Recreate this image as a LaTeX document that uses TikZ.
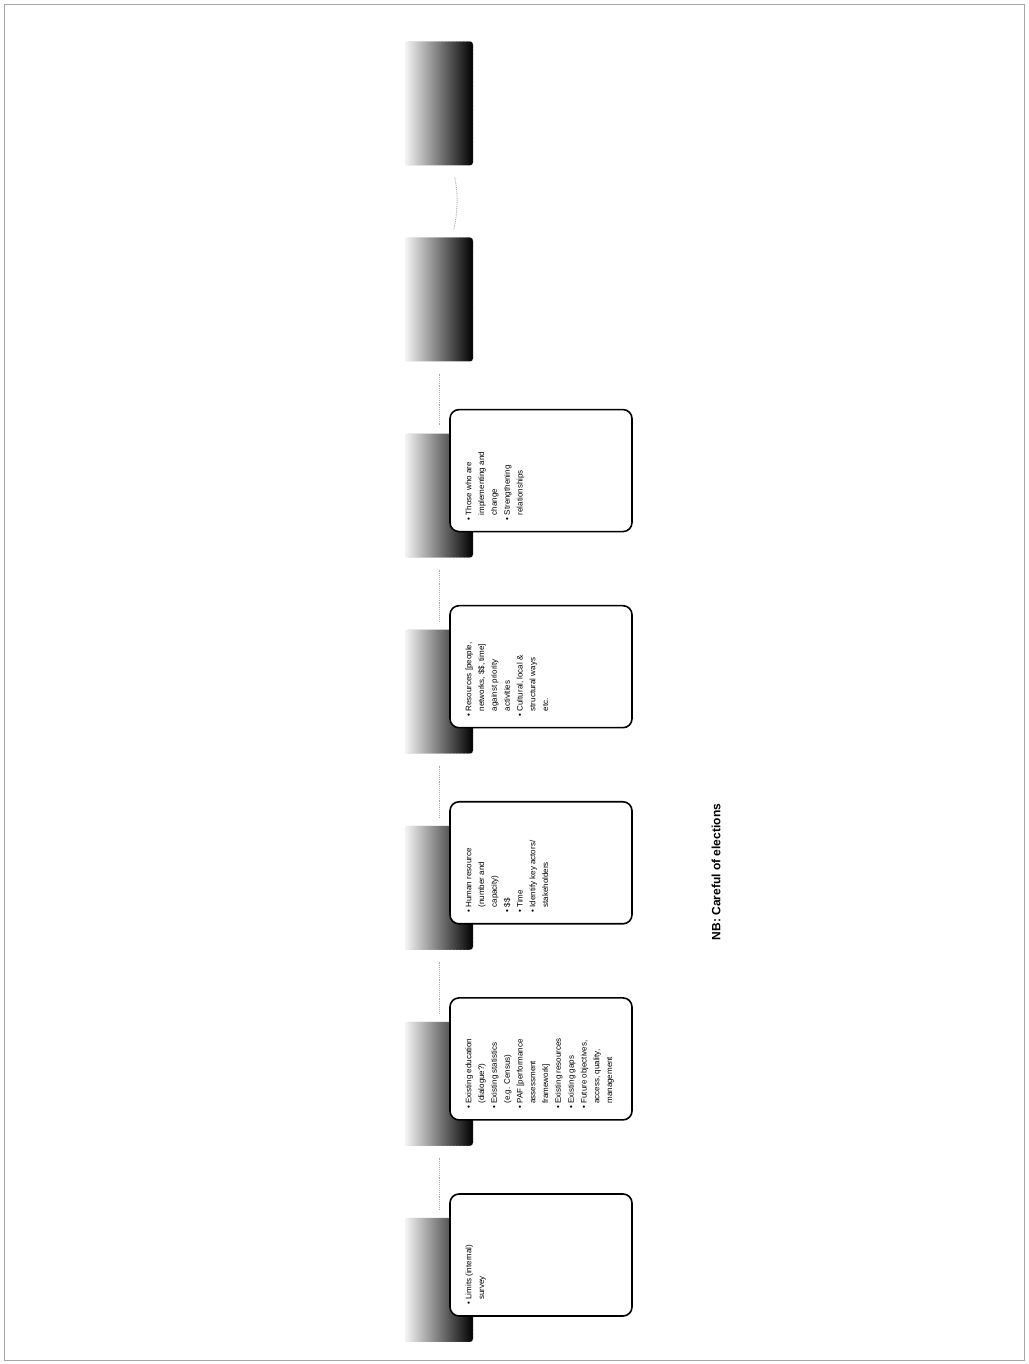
\documentclass[tikz,border=0pt]{standalone}
\usepackage{fontspec}
\setmainfont{Liberation Sans}
\usetikzlibrary{positioning, calc}
\tikzset{
    tab/.style={rounded corners=3pt, draw=gray!40, densely dotted, left color=gray!8, middle color=gray!80!black, right color=black, minimum width=68pt, minimum height=124pt, inner sep=0pt},
    card/.style={draw=black, line width=1.6pt, fill=white, rounded corners=9pt, minimum width=182pt, minimum height=122pt, inner sep=0pt},
    cardtext/.style={rotate=90, anchor=north west, inner sep=0pt, align=left, font=\fontsize{8}{12.8}\selectfont},
    link/.style={gray!70, densely dotted, line width=0.9pt, shorten <=8pt, shorten >=12pt}
}
\newcommand{\bl}{\textbullet}

\begin{document}
\begin{tikzpicture}[x=1pt, y=1pt]
        \useasboundingbox (0,0) rectangle (1028,1364);
        \node [draw=gray!70, line width=0.6pt, minimum width=1020pt, minimum height=1356pt, inner sep=0pt] (frame) at (514,682) {};

        % Tabs, from the bottom up
        \node [tab] (t1) at (439,84) {};
        \node [tab, above=71.7pt of t1] (t2) {};
        \node [tab, above=71.7pt of t2] (t3) {};
        \node [tab, above=71.7pt of t3] (t4) {};
        \node [tab, above=71.7pt of t4] (t5) {};
        \node [tab, above=71.7pt of t5] (t6) {};
        \node [tab, above=71.7pt of t6] (t7) {};

        \draw [link] (t1) -- (t2);
        \draw [link] (t2) -- (t3);
        \draw [link] (t3) -- (t4);
        \draw [link] (t4) -- (t5);
        \draw [link] (t5) -- (t6);
        \draw [link] (t6) to[bend right=12] (t7);

        % Cards beside the first five tabs
        \node [card, right=-24pt of t1, yshift=25pt] (b1) {};
        \node [card, right=-24pt of t2, yshift=25pt] (b2) {};
        \node [card, right=-24pt of t3, yshift=25pt] (b3) {};
        \node [card, right=-24pt of t4, yshift=25pt] (b4) {};
        \node [card, right=-24pt of t5, yshift=25pt] (b5) {};

        \node [cardtext] (b1txt) at ($(b1.south west)+(13pt,12pt)$) {%
            \begin{tabular}{@{}l@{\ }l@{}}
            \bl & Limits (internal)\\
                & survey
            \end{tabular}};
        \node [cardtext] (b2txt) at ($(b2.south west)+(13pt,12pt)$) {%
            \begin{tabular}{@{}l@{\ }l@{}}
            \bl & Existing education\\
                & (dialogue?)\\
            \bl & Existing statistics\\
                & (e.g. Census)\\
            \bl & PAF [performance\\
                & assessment\\
                & framework]\\
            \bl & Existing resources\\
            \bl & Existing gaps\\
            \bl & Future objectives,\\
                & access, quality,\\
                & management
            \end{tabular}};
        \node [cardtext] (b3txt) at ($(b3.south west)+(13pt,12pt)$) {%
            \begin{tabular}{@{}l@{\ }l@{}}
            \bl & Human resource\\
                & (number and\\
                & capacity)\\
            \bl & \$\$\\
            \bl & Time\\
            \bl & Identify key actors/\\
                & stakeholders
            \end{tabular}};
        \node [cardtext] (b4txt) at ($(b4.south west)+(13pt,12pt)$) {%
            \begin{tabular}{@{}l@{\ }l@{}}
            \bl & Resources [people,\\
                & networks, \$\$, time]\\
                & against priority\\
                & activities\\
            \bl & Cultural, local \&\\
                & structural ways\\
                & etc.
            \end{tabular}};
        \node [cardtext] (b5txt) at ($(b5.south west)+(13pt,12pt)$) {%
            \begin{tabular}{@{}l@{\ }l@{}}
            \bl & Those who are\\
                & implementing and\\
                & change\\
            \bl & Strengthening\\
                & relationships
            \end{tabular}};

        % Note
        \node [rotate=90, font=\fontsize{12}{14}\selectfont\bfseries] (nb) at (716,492) {NB: Careful of elections};
    \end{tikzpicture}
\end{document}
